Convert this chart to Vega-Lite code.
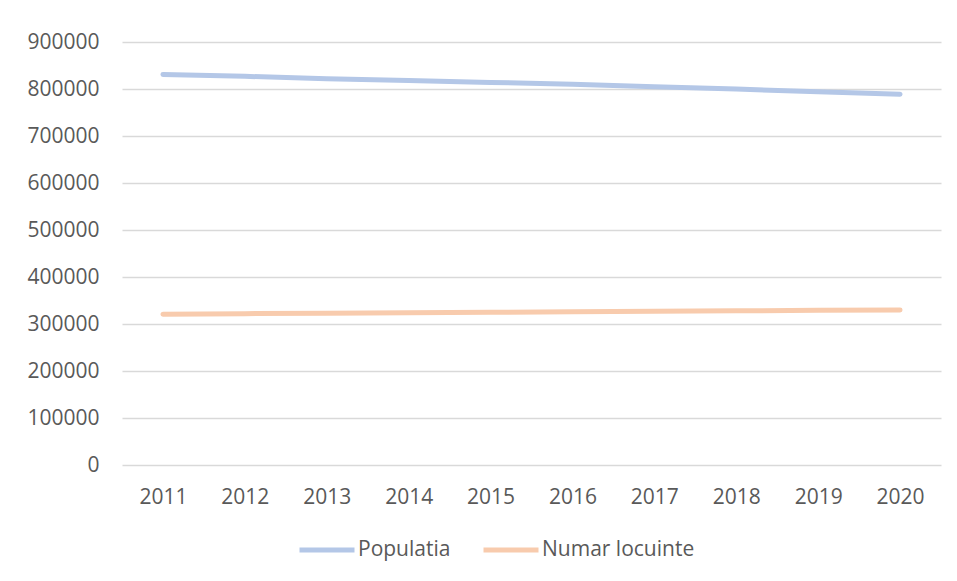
{
  "$schema": "https://vega.github.io/schema/vega-lite/v6.json",
  "width": 819,
  "height": 423,
  "autosize": "none",
  "padding": {"left": 122, "top": 42, "right": 16, "bottom": 116},
  "background": "white",
  "data": {
    "values": [
      {"year": "2011", "series": "Populatia", "value": 831000},
      {"year": "2012", "series": "Populatia", "value": 827000},
      {"year": "2013", "series": "Populatia", "value": 822000},
      {"year": "2014", "series": "Populatia", "value": 818000},
      {"year": "2015", "series": "Populatia", "value": 814000},
      {"year": "2016", "series": "Populatia", "value": 810000},
      {"year": "2017", "series": "Populatia", "value": 805000},
      {"year": "2018", "series": "Populatia", "value": 800000},
      {"year": "2019", "series": "Populatia", "value": 794000},
      {"year": "2020", "series": "Populatia", "value": 789000},
      {"year": "2011", "series": "Numar locuinte", "value": 321000},
      {"year": "2012", "series": "Numar locuinte", "value": 322000},
      {"year": "2013", "series": "Numar locuinte", "value": 323000},
      {"year": "2014", "series": "Numar locuinte", "value": 324000},
      {"year": "2015", "series": "Numar locuinte", "value": 325000},
      {"year": "2016", "series": "Numar locuinte", "value": 326000},
      {"year": "2017", "series": "Numar locuinte", "value": 327000},
      {"year": "2018", "series": "Numar locuinte", "value": 328000},
      {"year": "2019", "series": "Numar locuinte", "value": 329000},
      {"year": "2020", "series": "Numar locuinte", "value": 330000}
    ]
  },
  "mark": {"type": "line", "strokeWidth": 5, "strokeCap": "round", "strokeJoin": "round"},
  "encoding": {
    "x": {
      "field": "year", "type": "ordinal",
      "scale": {"type": "point", "padding": 0.5},
      "axis": {"title": null, "labelAngle": 0, "ticks": false, "domain": false, "labelPadding": 21, "labelFontSize": 21, "labelFont": "Open Sans", "labelColor": "#595959"}
    },
    "y": {
      "field": "value", "type": "quantitative",
      "scale": {"domain": [0, 900000]},
      "axis": {"title": null, "values": [0,100000,200000,300000,400000,500000,600000,700000,800000,900000], "format": "d", "ticks": false, "domain": false, "labelPadding": 23, "labelFontSize": 21, "labelFont": "Open Sans", "labelColor": "#595959", "gridColor": "#d9d9d9", "gridWidth": 1.5}
    },
    "color": {
      "field": "series", "type": "nominal",
      "scale": {"domain": ["Populatia", "Numar locuinte"], "range": ["#b4c7e7", "#f8cbad"]},
      "legend": {"title": null, "orient": "none", "legendX": 175, "legendY": 478, "direction": "horizontal", "symbolType": "stroke", "symbolSize": 3025, "symbolStrokeWidth": 5, "labelFontSize": 21, "labelFont": "Open Sans", "labelColor": "#595959", "columnPadding": 22, "labelOffset": 1}
    }
  },
  "config": {"view": {"stroke": null}}
}
